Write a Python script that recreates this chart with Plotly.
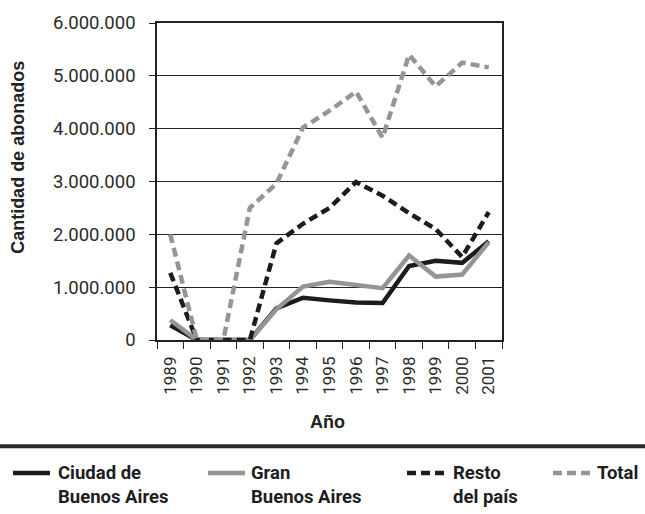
import plotly.graph_objects as go

years = ["1989", "1990", "1991", "1992", "1993", "1994", "1995", "1996", "1997",
         "1998", "1999", "2000", "2001"]
ciudad = [280000, 0, 0, 0, 600000, 800000, 750000, 710000, 700000, 1400000, 1500000, 1460000, 1870000]
gran_ba = [380000, 0, 0, 0, 580000, 1010000, 1100000, 1050000, 980000, 1600000, 1200000, 1240000, 1850000]
resto = [1270000, 0, 0, 0, 1830000, 2200000, 2500000, 2990000, 2730000, 2400000, 2100000, 1570000, 2420000]
total = [2000000, 0, 0, 2500000, 2960000, 4020000, 4340000, 4700000, 3830000, 5400000, 4800000, 5250000, 5160000]
y_ticks = [0, 1000000, 2000000, 3000000, 4000000, 5000000, 6000000]

BLACK = "#1c1c1c"
GRAY = "#959595"
DASH = "9px,5px"
LW = 4.5

W, H = 645, 514
L, R, T, B = 157, 143, 18, 174
PW, PH = W - L - R, H - T - B


def px(x):
    return (x - L) / PW


def py(y):
    return (H - B - y) / PH


series = [
    ("Ciudad de<br>Buenos Aires", ciudad, BLACK, "solid"),
    ("Gran<br>Buenos Aires", gran_ba, GRAY, "solid"),
    ("Resto<br>del país", resto, BLACK, DASH),
    ("Total", total, GRAY, DASH),
]

fig = go.Figure()
for name, vals, col, dash in series:
    fig.add_trace(go.Scatter(x=years, y=vals, mode="lines", name=name.replace("<br>", " "),
                             line=dict(color=col, width=LW, dash=dash),
                             showlegend=False))

fig.update_layout(
    width=W, height=H,
    margin=dict(l=L, r=R, t=T, b=B, pad=0),
    paper_bgcolor="white", plot_bgcolor="white",
    separators=",.",
    font=dict(family="Roboto", color="#222"),
)
fig.update_xaxes(
    type="category", range=[-0.5, 12.5],
    showline=True, linecolor="#222", linewidth=1.5, mirror=True,
    ticks="outside", ticklen=7, tickwidth=1.2, tickcolor="#222",
    tickson="boundaries", tickangle=-90, ticklabelstandoff=8,
    tickfont=dict(family="Roboto", size=17, color="#2a2a2a"),
    showgrid=False, zeroline=False,
)
fig.update_yaxes(
    range=[0, 6000000], tickvals=y_ticks, tickformat=",d",
    showline=True, linecolor="#222", linewidth=1.5, mirror=True,
    ticks="outside", ticklen=6, tickwidth=1.2, tickcolor="#222",
    ticklabelstandoff=10,
    tickfont=dict(family="Roboto", size=18.5, color="#2a2a2a"),
    showgrid=True, gridcolor="#222", gridwidth=1.2, zeroline=False,
)

annotations = [
    dict(text="<b>Cantidad de abonados</b>", x=px(18), y=py(155), xref="paper", yref="paper",
         textangle=-90, showarrow=False, xanchor="center", yanchor="middle",
         font=dict(family="Liberation Sans", size=18, color="#222")),
    dict(text="<b>Año</b>", x=px(327), y=py(423), xref="paper", yref="paper",
         showarrow=False, xanchor="center", yanchor="middle",
         font=dict(family="Liberation Sans", size=18, color="#222")),
]
shapes = [
    dict(type="line", xref="paper", yref="paper", x0=px(0), x1=px(W), y0=py(448), y1=py(448),
         line=dict(color="#2b2b2b", width=4)),
]

leg_pos = [(13, 50, 57), (208, 245, 250), (407, 447, 452), (553, 592, 596)]
for (name, vals, col, dash), (x0, x1, tx) in zip(series, leg_pos):
    shapes.append(dict(type="line", xref="paper", yref="paper", x0=px(x0), x1=px(x1),
                       y0=py(475), y1=py(475), line=dict(color=col, width=LW, dash=dash)))
    annotations.append(dict(text="<b>" + name.replace("<br>", "</b><br><b>") + "</b>",
                            x=px(tx), y=py(463), xref="paper", yref="paper",
                            showarrow=False, xanchor="left", yanchor="top", align="left",
                            borderpad=0,
                            font=dict(family="Roboto", size=18.5, color="#1e1e1e")))

fig.update_layout(annotations=annotations, shapes=shapes)
fig.write_html("out.html", config={"displayModeBar": False},
               post_script="document.body.style.margin='0';document.body.style.overflow='hidden';")
